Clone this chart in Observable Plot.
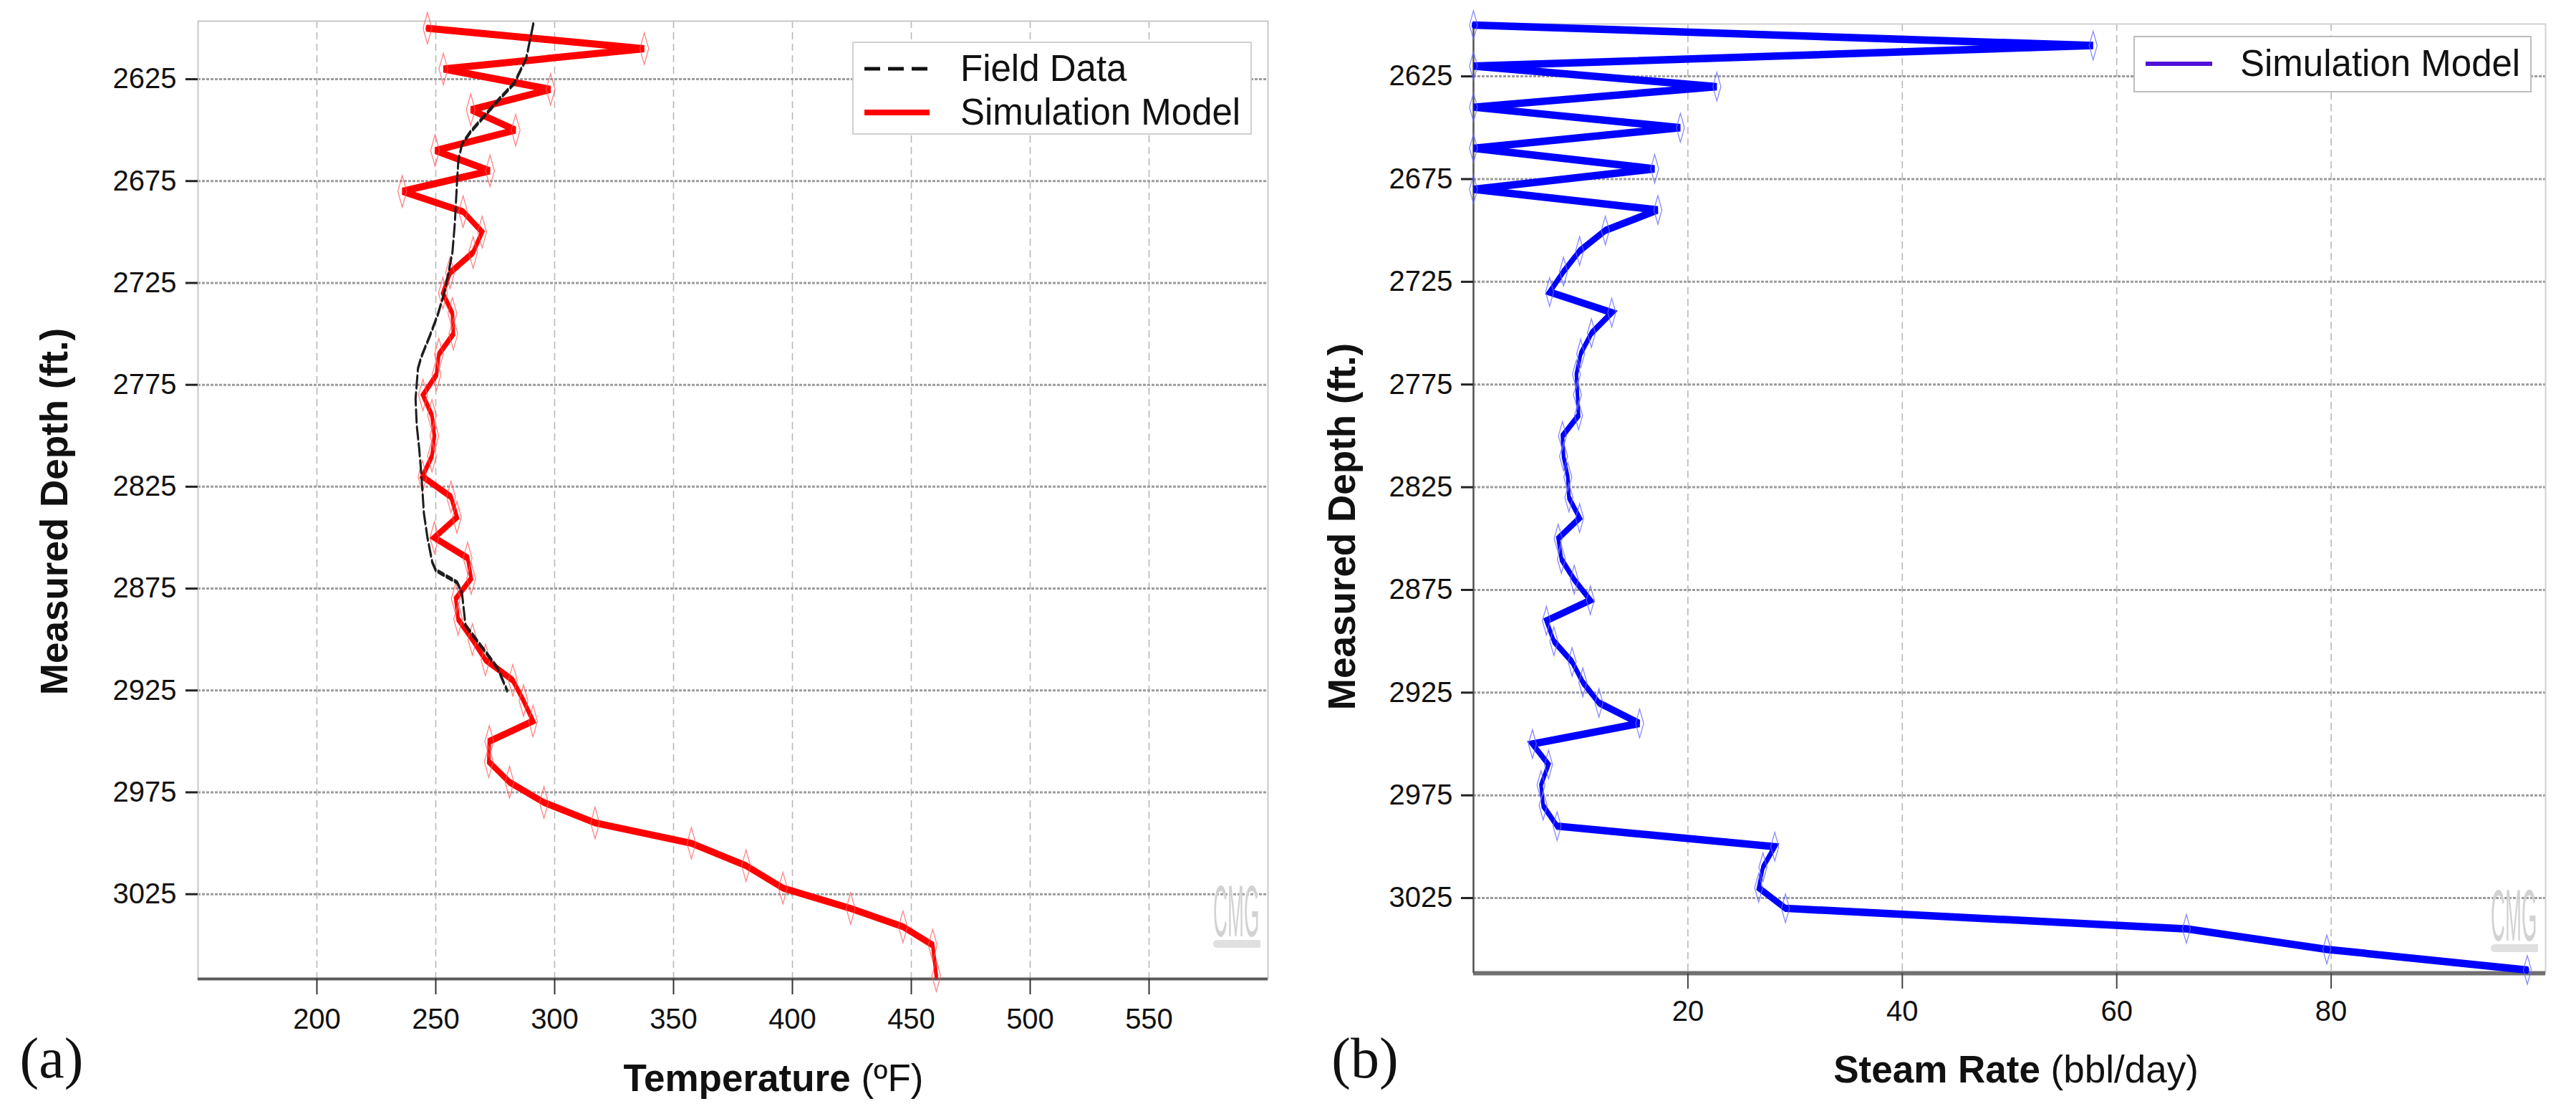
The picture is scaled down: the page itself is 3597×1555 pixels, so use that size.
<!DOCTYPE html>
<html><head><meta charset="utf-8">
<script src="https://cdn.jsdelivr.net/npm/d3@7"></script>
<script src="https://cdn.jsdelivr.net/npm/@observablehq/plot@0.6"></script>
<style>
html,body{margin:0;padding:0;background:#fff;}
#page{position:relative;width:3597px;height:1555px;overflow:hidden;background:#fff;font-family:"Liberation Sans",Arial,sans-serif;color:#111;}
.abs{position:absolute;white-space:nowrap;line-height:1;}
</style></head><body><div id="page"></div>
<script>
// ---------------- data ----------------
const depthTicks = [2625, 2675, 2725, 2775, 2825, 2875, 2925, 2975, 3025];
const tempTicks = [200, 250, 300, 350, 400, 450, 500, 550];
const steamTicks = [20, 40, 60, 80];
const tempDomain = [150, 600];
const steamDomain = [0, 100];
const depthDomainA = [2596.5, 3066.6];
const depthDomainB = [2599.5, 3061.6];

// (a) Simulation model temperature
const simDepthA = [2600,2610,2620,2630,2640,2650,2660,2670,2680,2690,2700,2710,2720,2730,2740,2750,2760,2770,2780,2790,2800,2810,2820,2830,2840,2850,2860,2870,2880,2890,2900,2910,2920,2930,2940,2950,2960,2970,2980,2990,3000,3011,3022,3032,3041,3050,3065];
const simTempA = [246.5,337.7,253.2,298.3,264.7,283.6,249.7,272.8,235.9,261.5,269.5,265.7,256.0,253.0,257.0,257.4,251.3,250.3,244.6,248.4,249.4,248.4,244.4,256.4,258.9,249.4,263.4,264.9,258.4,259.4,265.4,270.9,282.4,286.9,290.9,272.5,272.3,281.0,295.5,317.0,357.5,380.5,396.0,424.5,446.5,459.0,460.5];

// (a) Field data temperature
const fieldDepthA = [2598,2615,2627,2635,2643,2651,2657,2665,2674,2685,2696,2710,2728,2740,2751,2761,2767,2782,2795,2806,2820,2838,2850,2862,2866,2872,2877,2893,2900,2914,2925];
const fieldTempA = [291,288,283,276.5,270.5,264.5,261,259.5,259,258.5,258,257,254,251,247.5,244,242.5,241.5,242,243,244,245,246.5,248.5,250,259,261,262.5,267,276,280];

// (b) Simulation model steam rate
const steamDepthB = [2600,2610,2620,2630,2640,2650,2660,2670,2680,2690,2700,2710,2720,2730,2740,2750,2760,2770,2780,2790,2800,2810,2820,2830,2840,2850,2860,2870,2880,2890,2900,2910,2920,2930,2940,2950,2960,2970,2980,2990,3000,3010,3020,3030,3040,3050,3060];
const steamRateB = [0,57.8,0,22.7,0,19.3,0,16.9,0,17.2,12.3,9.9,8.4,7.1,12.9,11.0,10.0,9.6,9.7,9.8,8.3,8.4,8.8,8.9,9.9,7.9,8.2,9.4,10.9,6.8,7.5,9.2,10.2,11.7,15.5,5.5,7.0,6.3,6.5,7.8,28.1,27.0,26.6,29.1,66.5,79.6,98.3];

// ---------------- helpers ----------------
const page = document.getElementById("page");
function place(html, left, top, css) {
  const el = document.createElement("div");
  el.className = "abs";
  el.innerHTML = html;
  el.style.left = left + "px";
  el.style.top = top + "px";
  Object.assign(el.style, css || {});
  page.appendChild(el);
  return el;
}
// tall narrow diamond marker
const tallDiamond = {
  draw(ctx, size) {
    const r = Math.sqrt(size / Math.PI);
    const w = r * 0.28;
    ctx.moveTo(0, -r); ctx.lineTo(w, 0); ctx.lineTo(0, r); ctx.lineTo(-w, 0); ctx.closePath();
  }
};
// vertically stretched stroke (as in the original raster): thicker on near-horizontal segments
function stretchStroke(svg, s) {
  svg.querySelectorAll('g[aria-label="line"] path').forEach(p => {
    const d = p.getAttribute("d");
    if (!d) return;
    const nd = d.replace(/(-?\d*\.?\d+(?:e[-+]?\d+)?),(-?\d*\.?\d+(?:e[-+]?\d+)?)/g, (m, x, y) => `${x},${(+y) / s}`);
    p.setAttribute("d", nd);
    p.setAttribute("transform", `scale(1,${s})`);
  });
}
const baseStyle = {fontFamily: "'Liberation Sans', Arial, sans-serif", fontSize: "40px", color: "#111", background: "transparent", overflow: "visible"};
const fmt = d => `${d}`;

// ---------------- panel (a) ----------------
const simA = simDepthA.map((d, i) => ({depth: d, value: simTempA[i]}));
const fieldA = fieldDepthA.map((d, i) => ({depth: d, value: fieldTempA[i]}));

const chartA = Plot.plot({
  width: 1790, height: 1446,
  marginLeft: 276, marginRight: 20, marginTop: 29, marginBottom: 80,
  style: baseStyle,
  x: {domain: tempDomain},
  y: {domain: depthDomainA, reverse: true},
  marks: [
    Plot.gridX(tempTicks, {stroke: "#b8b8b8", strokeOpacity: 1, strokeWidth: 1.6, strokeDasharray: "10,6"}),
    Plot.gridY(depthTicks, {stroke: "#9c9c9c", strokeOpacity: 1, strokeWidth: 3, strokeDasharray: "4,2"}),
    Plot.frame({stroke: "#c8c8c8", strokeWidth: 2}),
    Plot.ruleY([depthDomainA[1]], {stroke: "#5c5c5c", strokeWidth: 4}),
    Plot.axisX(tempTicks, {tickSize: 22, tickPadding: 19, stroke: "#333", strokeWidth: 2, label: null, tickFormat: fmt}),
    Plot.axisY(depthTicks, {tickSize: 17, tickPadding: 13, stroke: "#222", strokeWidth: 3, label: null, tickFormat: fmt}),
    Plot.line(simA, {x: "value", y: "depth", stroke: "#ff0000", strokeWidth: 5, strokeLinejoin: "miter", strokeMiterlimit: 4}),
    Plot.dot(simA, {x: "value", y: "depth", symbol: tallDiamond, r: 22, stroke: "#ff5a5a", strokeOpacity: 0.75, strokeWidth: 1.3, fill: "none"}),
    Plot.line(fieldA, {x: "value", y: "depth", stroke: "#1e1e1e", strokeWidth: 3, strokeDasharray: "8,4"})
  ]
});
stretchStroke(chartA, 2);
const holderA = place("", 0, 0);
holderA.appendChild(chartA);

// ---------------- panel (b) ----------------
const simB = steamDepthB.map((d, i) => ({depth: d, value: steamRateB[i]}));
const chartB = Plot.plot({
  width: 1774, height: 1428,
  marginLeft: 257, marginRight: 20, marginTop: 33, marginBottom: 70,
  style: baseStyle,
  x: {domain: steamDomain},
  y: {domain: depthDomainB, reverse: true},
  marks: [
    Plot.gridX(steamTicks, {stroke: "#b8b8b8", strokeOpacity: 1, strokeWidth: 1.6, strokeDasharray: "10,6"}),
    Plot.gridY(depthTicks, {stroke: "#9c9c9c", strokeOpacity: 1, strokeWidth: 3, strokeDasharray: "4,2"}),
    Plot.frame({stroke: "#d0d0d0", strokeWidth: 2}),
    Plot.ruleY([depthDomainB[1]], {stroke: "#707070", strokeWidth: 6}),
    Plot.ruleX([steamDomain[0]], {stroke: "#555", strokeWidth: 2.5}),
    Plot.axisX(steamTicks, {tickSize: 22, tickPadding: 16, stroke: "#444", strokeWidth: 2, label: null, tickFormat: fmt}),
    Plot.axisY(depthTicks, {tickSize: 17, tickPadding: 12, stroke: "#222", strokeWidth: 3, label: null, tickFormat: fmt}),
    Plot.line(simB, {x: "value", y: "depth", stroke: "#0000ff", strokeWidth: 5, strokeLinejoin: "miter", strokeMiterlimit: 4}),
    Plot.dot(simB, {x: "value", y: "depth", symbol: tallDiamond, r: 20, stroke: "#6a6aff", strokeOpacity: 0.8, strokeWidth: 1.3, fill: "none"})
  ]
});
stretchStroke(chartB, 2.1);
const holderB = place("", 1800, 0);
holderB.appendChild(chartB);

// ---------------- titles ----------------
const center = {transform: "translate(-50%,-50%)"};
place("Measured Depth (ft.)", 75, 714, {fontSize: "53px", fontWeight: "700", transform: "translate(-50%,-50%) rotate(-90deg)"});
place("Measured Depth (ft.)", 1873, 735, {fontSize: "53px", fontWeight: "700", transform: "translate(-50%,-50%) rotate(-90deg)"});
place('<span style="font-weight:700">Temperature</span> (ºF)', 1080, 1504, Object.assign({fontSize: "53px"}, center));
place('<span style="font-weight:700">Steam Rate</span> (bbl/day)', 2815, 1492, Object.assign({fontSize: "53px"}, center));
place("(a)", 72, 1477, Object.assign({fontSize: "80px", fontFamily: "'Liberation Serif','Times New Roman',serif"}, center));
place("(b)", 1906, 1477, Object.assign({fontSize: "80px", fontFamily: "'Liberation Serif','Times New Roman',serif"}, center));

// ---------------- legends ----------------
place("", 1190, 58, {width: "558px", height: "130px", boxSizing: "border-box", border: "2px solid #cfcfcf", background: "#fff"});
place('<svg width="95" height="12"><line x1="2" y1="6" x2="92" y2="6" stroke="#111" stroke-width="5" stroke-dasharray="22,11"/></svg>', 1205, 89);
place("Field Data", 1341, 95, {fontSize: "51px", transform: "translateY(-50%)"});
place('<svg width="95" height="12"><line x1="2" y1="6" x2="93" y2="6" stroke="#ff0000" stroke-width="8"/></svg>', 1205, 150);
place("Simulation Model", 1341, 156, {fontSize: "51px", transform: "translateY(-50%)"});

place("", 2979, 50, {width: "556px", height: "79px", boxSizing: "border-box", border: "2px solid #bdbdbd", background: "#fff"});
place('<svg width="97" height="12"><line x1="2" y1="6" x2="95" y2="6" stroke="#5010d8" stroke-width="6"/></svg>', 2994, 82);
place("Simulation Model", 3128, 88, {fontSize: "51px", transform: "translateY(-50%)"});

// ---------------- CMG watermarks ----------------
function watermark(x, y) {
  place("CMG", x, y, {fontSize: "30px", color: "#d2d2d2", transformOrigin: "0 0", transform: "scale(0.92,3.4)"});
  place("", x, y + 90, {width: "66px", height: "11px", background: "#e0e0e0", borderRadius: "6px 0 0 6px"});
}
watermark(1694, 1222);
watermark(3478, 1228);
</script></body></html>
